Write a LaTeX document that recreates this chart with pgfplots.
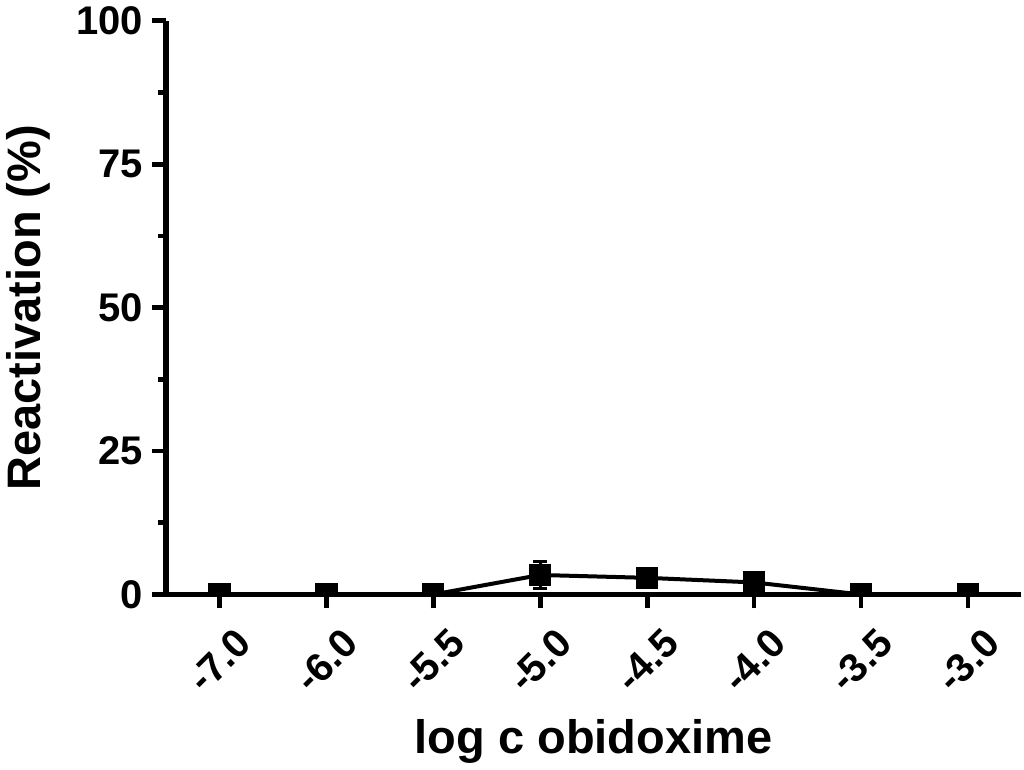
\documentclass[border=0pt]{standalone}
\usepackage{fontspec}
\setmainfont{Liberation Sans}
\usepackage{pgfplots}
\pgfplotsset{compat=1.18}
\begin{document}
\begin{tikzpicture}
\begin{axis}[
  scale only axis,
  width=428pt, height=287pt,
  xmin=-0.5, xmax=7.5,
  ymin=0, ymax=100,
  axis lines=left,
  axis line style={-, line width=2.6pt},
  xtick={0,1,2,3,4,5,6,7},
  xticklabels={-7.0,-6.0,-5.5,-5.0,-4.5,-4.0,-3.5,-3.0},
  ytick={0,25,50,75,100},
  minor y tick num=1,
  tick align=outside,
  major tick length=7pt,
  minor tick length=4pt,
  every tick/.style={line width=2.4pt, black},
  /pgf/number format/assume math mode=true,
  tick label style={font=\fontsize{20}{24}\selectfont\bfseries},
  xticklabel style={yshift=-26pt, rotate=45, anchor=center},
  yticklabel style={xshift=-1pt},
  xlabel={log c obidoxime},
  ylabel={Reactivation (\%)},
  label style={font=\fontsize{23.5}{28}\selectfont\bfseries},
  xlabel style={yshift=-4pt},
  ylabel style={yshift=6pt},
  clip marker paths=true,
]
\addplot[black, line width=2pt, mark=square*, mark size=4.6pt,
  error bars/.cd, y dir=both, y explicit,
  error bar style={line width=1.5pt},
  error mark options={rotate=90, mark size=3.6pt, line width=1.5pt}]
  table[x=x, y=y, y error=e] {
x y e
0 0 0
1 0 0
2 0 0
3 3.4 2.4
4 2.9 0
5 2.1 0
6 0 0
7 0 0
};
\end{axis}
\end{tikzpicture}
\end{document}
